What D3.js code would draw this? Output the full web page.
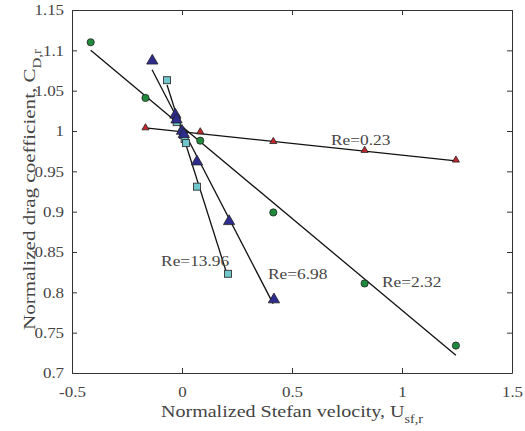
<!DOCTYPE html>
<html>
<head>
<meta charset="utf-8">
<script src="https://cdn.jsdelivr.net/npm/d3@7"></script>
<style>
  body { margin: 0; background: #fff; }
  text { font-family: "Liberation Serif", "Times New Roman", serif; fill: #444; }
</style>
</head>
<body>
<div id="chart"></div>
<script>
// data
var xTicks = [-0.5, 0, 0.5, 1, 1.5];
var yTicks = [0.7, 0.75, 0.8, 0.85, 0.9, 0.95, 1, 1.05, 1.1, 1.15];

var re023X = [-0.166, 0, 0.083, 0.415, 0.83, 1.245];
var re023Y = [1.004, 1.0, 0.999, 0.987, 0.976, 0.964];
var re023Fit = [[-0.166, 1.004], [1.245, 0.963]];

var re232X = [-0.415, -0.166, 0, 0.083, 0.415, 0.83, 1.245];
var re232Y = [1.11, 1.041, 1.0, 0.988, 0.899, 0.811, 0.734];
var re232Fit = [[-0.415, 1.1], [1.245, 0.722]];

var re698X = [-0.135, -0.03, -0.025, 0, 0.008, 0.068, 0.214, 0.418];
var re698Y = [1.087, 1.02, 1.014, 1.0, 0.996, 0.962, 0.888, 0.791];
var re698Fit = [[-0.136, 1.076], [0.414, 0.786]];

var re1396X = [-0.068, -0.027, -0.024, 0.005, 0.012, 0.018, 0.068, 0.209];
var re1396Y = [1.063, 1.015, 1.011, 0.995, 0.99, 0.985, 0.931, 0.823];
var re1396Fit = [[-0.068, 1.057], [0.205, 0.822]];

var labels = [
    {text: "Re=0.23", x: 0.677, y: 0.983},
    {text: "Re=6.98", x: 0.391, y: 0.817},
    {text: "Re=2.32", x: 0.909, y: 0.806},
    {text: "Re=13.96", x: -0.095, y: 0.833}
];

var margin = {top: 10, right: 13, bottom: 58, left: 72},
    width = 525 - margin.left - margin.right,
    height = 431 - margin.top - margin.bottom;

var svg = d3.select("#chart")
    .append("svg")
    .attr("width", 525)
    .attr("height", 431)
    .append("g")
    .attr("transform", "translate(" + margin.left + "," + margin.top + ")");

var x = d3.scaleLinear().domain([-0.5, 1.5]).range([0, width]);
var y = d3.scaleLinear().domain([0.7, 1.15]).range([height, 0]);

// axes, ticks inward like matlab
// (the source figure is stretched sideways a little, so text gets scale(1.13,1))
var axisColor = "#333";
function styleAxis(g) {
    g.select(".domain").attr("stroke", axisColor);
    g.selectAll(".tick line").attr("stroke", axisColor);
    g.selectAll(".tick text")
        .style("font-family", "'Liberation Serif', serif")
        .style("font-size", "15px")
        .attr("fill", "#444")
        .attr("transform", "scale(1.13,1)");
}
var fmt = function (d) { return String(d); };
svg.append("g")
    .attr("transform", "translate(0," + height + ")")
    .call(d3.axisBottom(x).tickValues(xTicks).tickSizeInner(-5).tickSizeOuter(0).tickPadding(13)
        .tickFormat(fmt))
    .call(styleAxis);
svg.append("g")
    .call(d3.axisTop(x).tickValues(xTicks).tickSizeInner(-5).tickSizeOuter(0).tickFormat(""))
    .call(styleAxis);
svg.append("g")
    .call(d3.axisLeft(y).tickValues(yTicks).tickSizeInner(-5).tickSizeOuter(0).tickPadding(7)
        .tickFormat(fmt))
    .call(styleAxis);
svg.append("g")
    .attr("transform", "translate(" + width + ",0)")
    .call(d3.axisRight(y).tickValues(yTicks).tickSizeInner(-5).tickSizeOuter(0).tickFormat(""))
    .call(styleAxis);

// axis labels
var xl = svg.append("text")
    .attr("transform", "translate(" + (width / 2) + "," + (height + 44) + ") scale(1.18,1)")
    .style("text-anchor", "middle")
    .style("font-size", "17px");
xl.append("tspan").text("Normalized Stefan velocity, U");
xl.append("tspan").attr("dy", 6).style("font-size", "12px").text("sf,r");

var yl = svg.append("text")
    .attr("transform", "translate(-37," + (height / 2 - 2) + ") rotate(-90) scale(1.24,1)")
    .style("text-anchor", "middle")
    .style("font-size", "17px");
yl.append("tspan").text("Normalized drag coefficient, C");
yl.append("tspan").attr("dy", 6).style("font-size", "12px").text("D,r");

// fit lines
var line = d3.line()
    .x(function (d) { return x(d[0]); })
    .y(function (d) { return y(d[1]); });
[re023Fit, re232Fit, re698Fit, re1396Fit].forEach(function (f) {
    svg.append("path")
        .datum(f)
        .attr("fill", "none")
        .attr("stroke", "#111")
        .attr("stroke-width", 1.3)
        .attr("d", line);
});

function pts(xs, ys) {
    return xs.map(function (v, i) { return [v, ys[i]]; });
}

// Re=2.32 green circles
svg.selectAll(".c232")
    .data(pts(re232X, re232Y))
    .enter().append("circle")
    .attr("cx", function (d) { return x(d[0]); })
    .attr("cy", function (d) { return y(d[1]); })
    .attr("r", 3.6)
    .attr("fill", "#1f8a3b")
    .attr("stroke", "#222")
    .attr("stroke-width", 0.8);

// Re=0.23 small red triangles
svg.selectAll(".t023")
    .data(pts(re023X, re023Y))
    .enter().append("path")
    .attr("d", d3.symbol().type(d3.symbolTriangle).size(22))
    .attr("transform", function (d) { return "translate(" + x(d[0]) + "," + y(d[1]) + ")"; })
    .attr("fill", "#c1272d")
    .attr("stroke", "#222")
    .attr("stroke-width", 0.8);

// Re=13.96 cyan squares
svg.selectAll(".s1396")
    .data(pts(re1396X, re1396Y))
    .enter().append("rect")
    .attr("x", function (d) { return x(d[0]) - 3.5; })
    .attr("y", function (d) { return y(d[1]) - 3.5; })
    .attr("width", 7)
    .attr("height", 7)
    .attr("fill", "#70c8cc")
    .attr("stroke", "#333")
    .attr("stroke-width", 0.9);

// Re=6.98 navy triangles
svg.selectAll(".t698")
    .data(pts(re698X, re698Y))
    .enter().append("path")
    .attr("d", d3.symbol().type(d3.symbolTriangle).size(55))
    .attr("transform", function (d) { return "translate(" + x(d[0]) + "," + y(d[1]) + ")"; })
    .attr("fill", "#2e2d8f")
    .attr("stroke", "#222")
    .attr("stroke-width", 0.8);

// Re labels
svg.selectAll(".relabel")
    .data(labels)
    .enter().append("text")
    .attr("transform", function (d) {
        return "translate(" + x(d.x) + "," + y(d.y) + ") scale(1.12,1)";
    })
    .style("font-size", "15.5px")
    .text(function (d) { return d.text; });
</script>
</body>
</html>
